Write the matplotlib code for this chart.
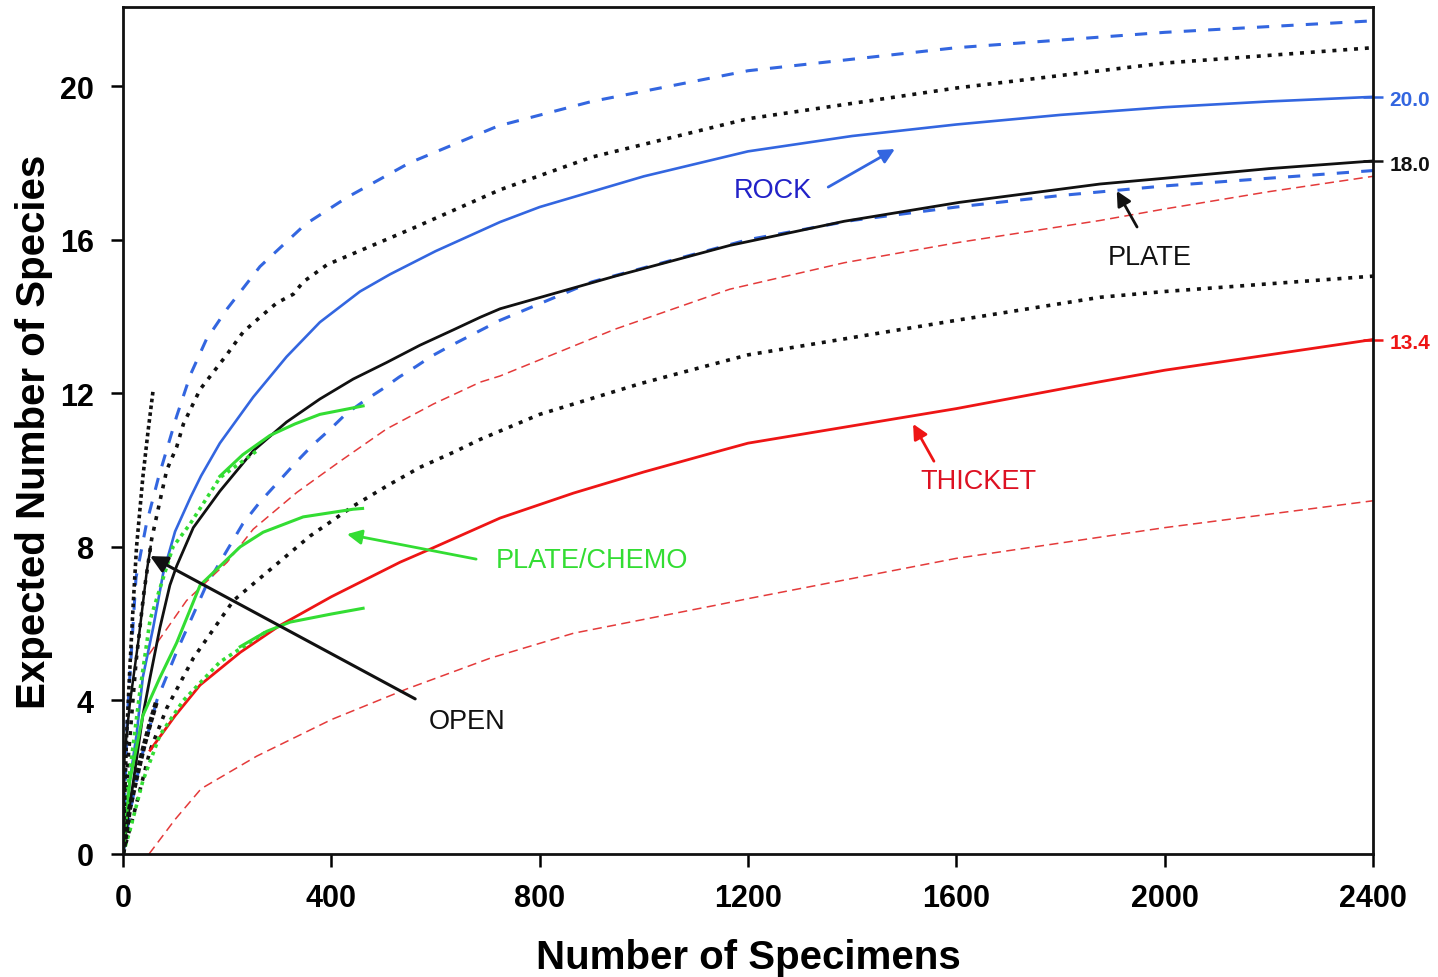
import matplotlib
matplotlib.use("Agg")
import matplotlib.pyplot as plt

plt.rcParams['font.family'] = ['Liberation Sans', 'DejaVu Sans']

# ---------------- data ----------------
rock_x = [0, 13, 26, 38, 58, 77, 100, 130, 150, 186, 250, 314, 378, 455, 513, 600, 724, 800, 1000, 1200, 1400, 1600, 1800, 2000, 2200, 2400]
rock_y = [0, 1.9, 3.1, 4.6, 5.9, 7.3, 8.4, 9.3, 9.85, 10.7, 11.9, 12.95, 13.85, 14.65, 15.1, 15.7, 16.46, 16.85, 17.65, 18.3, 18.7, 19.0, 19.25, 19.45, 19.6, 19.72]

rock_up_x = [0, 8, 25, 45, 68, 103, 130, 160, 200, 263, 350, 430, 550, 720, 900, 1200, 1600, 2000, 2400]
rock_up_y = [0, 3.5, 7.2, 8.6, 9.8, 11.4, 12.5, 13.4, 14.2, 15.3, 16.4, 17.1, 18.0, 18.96, 19.6, 20.4, 21.0, 21.4, 21.7]

rock_lo_x = [0, 15, 33, 65, 104, 160, 230, 263, 298, 332, 364, 396, 428, 463, 497, 530, 563, 593, 628, 661, 724, 900, 1200, 1400, 1600, 1800, 2000, 2200, 2400]
rock_lo_y = [0, 1.2, 2.4, 4.0, 5.3, 7.0, 8.6, 9.17, 9.69, 10.2, 10.65, 11.04, 11.46, 11.8, 12.1, 12.42, 12.7, 12.97, 13.23, 13.46, 13.9, 14.9, 16.0, 16.5, 16.85, 17.15, 17.4, 17.6, 17.8]

plate_x = [0, 10, 20, 38, 52, 71, 90, 103, 135, 186, 250, 314, 378, 442, 506, 570, 634, 686, 724, 945, 1165, 1385, 1605, 1876, 2000, 2200, 2400]
plate_y = [0, 1.0, 1.9, 3.6, 4.6, 5.9, 7.0, 7.5, 8.5, 9.45, 10.5, 11.25, 11.85, 12.37, 12.8, 13.25, 13.65, 13.98, 14.2, 15.05, 15.85, 16.48, 16.97, 17.45, 17.6, 17.85, 18.05]

plate_up_x = [0, 10, 25, 40, 55, 71, 84, 103, 116, 148, 199, 231, 263, 295, 327, 346, 392, 557, 724, 900, 1200, 1600, 1876, 2000, 2200, 2400]
plate_up_y = [0, 2.5, 5.0, 6.8, 8.2, 9.2, 10.0, 10.6, 11.2, 12.1, 13.0, 13.6, 13.98, 14.35, 14.58, 14.9, 15.35, 16.3, 17.3, 18.15, 19.15, 19.95, 20.4, 20.6, 20.8, 21.0]

plate_lo_x = [0, 20, 52, 84, 135, 212, 359, 442, 506, 570, 634, 686, 800, 993, 1200, 1600, 1876, 2000, 2200, 2400]
plate_lo_y = [0, 1.0, 2.7, 3.8, 5.1, 6.6, 8.28, 9.06, 9.58, 10.07, 10.46, 10.8, 11.45, 12.25, 13.0, 13.9, 14.5, 14.65, 14.85, 15.05]

thicket_x = [52, 100, 148, 225, 301, 400, 532, 583, 724, 865, 1000, 1146, 1200, 1400, 1600, 1876, 2000, 2200, 2400]
thicket_y = [2.7, 3.6, 4.4, 5.25, 5.95, 6.7, 7.6, 7.9, 8.75, 9.4, 9.95, 10.5, 10.7, 11.15, 11.6, 12.3, 12.6, 13.0, 13.4]

thicket_up_x = [50, 122, 200, 250, 334, 417, 506, 596, 686, 724, 945, 1165, 1385, 1605, 1876, 2000, 2200, 2400]
thicket_up_y = [5.2, 6.6, 7.6, 8.46, 9.42, 10.23, 11.07, 11.72, 12.29, 12.45, 13.67, 14.71, 15.4, 15.93, 16.5, 16.8, 17.25, 17.65]

thicket_lo_x = [50, 100, 150, 257, 400, 545, 705, 865, 1146, 1200, 1600, 2000, 2400]
thicket_lo_y = [0, 0.9, 1.7, 2.55, 3.5, 4.3, 5.1, 5.75, 6.5, 6.65, 7.7, 8.5, 9.2]

chemo_mid_x = [0, 13, 38, 71, 103, 148, 225, 269, 346, 442, 460]
chemo_mid_y = [0, 1.9, 3.6, 4.6, 5.5, 7.0, 8.0, 8.38, 8.78, 8.98, 9.0]

chemo_up_dot_x = [0, 10, 33, 52, 96, 129, 186, 257]
chemo_up_dot_y = [0, 1.8, 4.3, 6.1, 8.0, 8.6, 9.8, 10.5]
chemo_up_x = [186, 230, 282, 330, 378, 461]
chemo_up_y = [9.84, 10.4, 10.9, 11.2, 11.45, 11.67]

chemo_lo_dot_x = [0, 13, 38, 71, 116, 186, 276]
chemo_lo_dot_y = [0, 0.6, 1.9, 3.1, 4.0, 5.0, 5.8]
chemo_lo_x = [225, 276, 321, 400, 461]
chemo_lo_y = [5.4, 5.8, 6.04, 6.25, 6.4]

open_up_x = [0, 4, 7, 13, 20, 26, 38, 48, 58]
open_up_y = [0, 1.8, 3.1, 4.8, 6.6, 8.0, 9.8, 11.0, 12.1]
open_x = [0, 3, 13, 30, 46, 53]
open_y = [0, 2.6, 3.9, 5.6, 7.4, 8.0]
open_lo_x = [0, 13, 26, 40, 52, 65]
open_lo_y = [0, 1.2, 2.0, 2.8, 3.4, 4.0]

x_ticks = [0, 400, 800, 1200, 1600, 2000, 2400]
y_ticks = [0, 4, 8, 12, 16, 20]
end_labels = ["20.0", "18.0", "13.4"]

# ---------------- style ----------------
BLUE = '#3366e0'
BLUE_TXT = '#2222c8'
BLACK = '#111111'
RED = '#ee1515'
RED_D = '#e43a3a'
GREEN = '#33dd33'

fig = plt.figure(figsize=(14.38, 9.78), dpi=100)
ax = fig.add_axes([123/1438, 1-855/978, 1250/1438, 847/978])

dash_blue = (0, (4, 4))
dot_black = (0, (1.1, 1.9))
dash_red = (0, (6, 3.5))

ax.plot(rock_up_x, rock_up_y, color=BLUE, lw=2.2, ls=dash_blue)
ax.plot(rock_lo_x, rock_lo_y, color=BLUE, lw=2.2, ls=dash_blue)
ax.plot(plate_up_x, plate_up_y, color=BLACK, lw=2.6, ls=dot_black)
ax.plot(plate_lo_x, plate_lo_y, color=BLACK, lw=2.6, ls=dot_black)
ax.plot(thicket_up_x, thicket_up_y, color=RED_D, lw=1.1, ls=dash_red)
ax.plot(thicket_lo_x, thicket_lo_y, color=RED_D, lw=1.1, ls=dash_red)

ax.plot(rock_x, rock_y, color=BLUE, lw=1.9)
ax.plot(plate_x, plate_y, color=BLACK, lw=2.0)
ax.plot(thicket_x, thicket_y, color=RED, lw=2.0)

ax.plot(chemo_up_dot_x, chemo_up_dot_y, color=GREEN, lw=2.6, ls=(0, (1, 1.2)))
ax.plot(chemo_lo_dot_x, chemo_lo_dot_y, color=GREEN, lw=2.6, ls=(0, (1, 1.2)))
ax.plot(chemo_up_x, chemo_up_y, color=GREEN, lw=2.2)
ax.plot(chemo_mid_x, chemo_mid_y, color=GREEN, lw=2.2)
ax.plot(chemo_lo_x, chemo_lo_y, color=GREEN, lw=2.2)

ax.plot(open_up_x, open_up_y, color=BLACK, lw=2.6, ls=(0, (1, 0.9)))
ax.plot(open_x, open_y, color=BLACK, lw=1.8)
ax.plot(open_lo_x, open_lo_y, color=BLACK, lw=3.6, ls=(0, (1, 0.5)))

# end stubs and labels
for yv, lab, col in [(rock_y[-1], end_labels[0], BLUE), (plate_y[-1], end_labels[1], BLACK),
                     (thicket_y[-1], end_labels[2], RED)]:
    ax.plot([2400], [yv], marker='_', ms=14, mew=1.8, color=col, clip_on=False)
    ax.text(2432, yv - 0.08, lab, color=col, fontsize=15, fontweight='bold',
            ha='left', va='center', clip_on=False)

ax.set_xlim(0, 2400)
ax.set_ylim(0, 22.06)
ax.set_xticks(x_ticks)
ax.set_yticks(y_ticks)
ax.tick_params(axis='both', direction='out', length=9, width=1.8, labelsize=22, pad=12)
for lab in ax.get_xticklabels() + ax.get_yticklabels():
    lab.set_fontweight('bold')
for s in ax.spines.values():
    s.set_linewidth(2.0)
    s.set_color('#111111')

ax.set_xlabel("Number of Specimens", fontsize=29, fontweight='bold', labelpad=18)
ax.set_ylabel("Expected Number of Species", fontsize=29, fontweight='bold', labelpad=5)

# annotations
def arrow(txt, xy, xytext_arrow, tpos, col, tcol, lw=2.0, ms=22):
    ax.annotate('', xy=xy, xytext=xytext_arrow,
                arrowprops=dict(arrowstyle='-|>', color=col, lw=lw, mutation_scale=ms,
                                shrinkA=0, shrinkB=0))
    ax.text(tpos[0], tpos[1], txt, color=tcol, fontsize=19.5, ha='center', va='center')

arrow("ROCK", (1482, 18.36), (1354, 17.37), (1248, 17.29), BLUE, BLUE_TXT)
arrow("PLATE", (1908, 17.27), (1947, 16.33), (1972, 15.55), BLACK, BLACK)
arrow("THICKET", (1517, 11.2), (1557, 10.23), (1642, 9.71), RED, '#dd1122')
arrow("PLATE/CHEMO", (430, 8.33), (678, 7.68), (900, 7.66), GREEN, GREEN)
arrow("OPEN", (52, 7.76), (561, 4.04), (660, 3.46), BLACK, BLACK, lw=2.2, ms=26)

fig.savefig("out.png", dpi=100)
